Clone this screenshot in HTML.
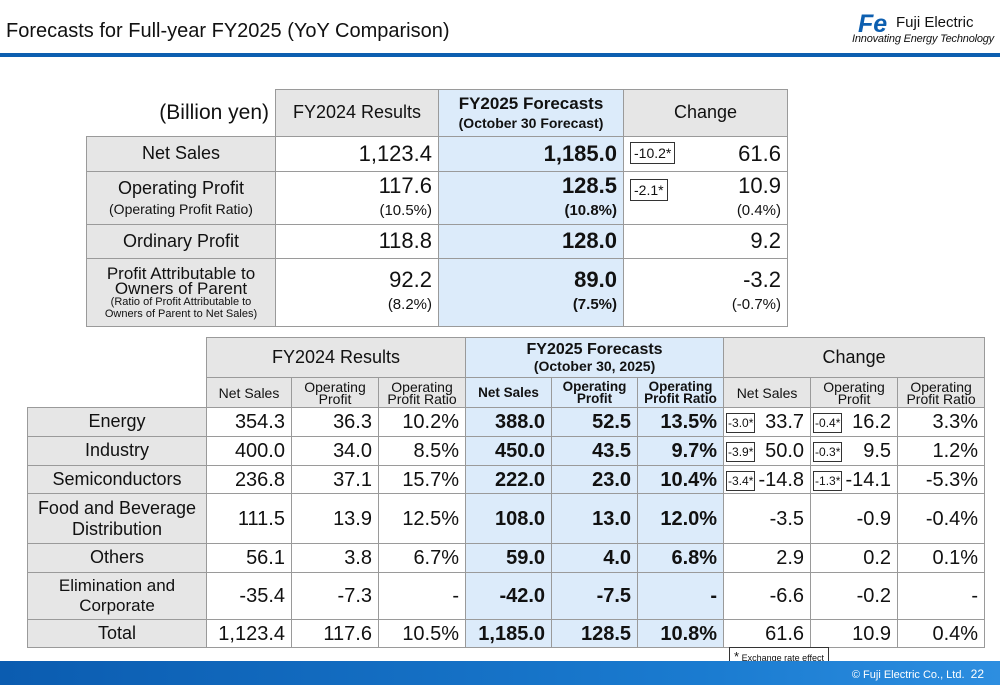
<!DOCTYPE html>
<html><head><meta charset="utf-8"><style>
body{margin:0;width:1000px;height:685px;position:relative;background:#fff;font-family:"Liberation Sans",Arial,sans-serif;overflow:hidden;color:#111}
table{position:absolute;border-collapse:collapse;table-layout:fixed}
td{border:1px solid #9a9a9a;padding:0 6px;box-sizing:border-box;line-height:1.1}
.g{background:#e6e6e6;text-align:center}
.b{background:#dcebfa}
.r{text-align:right}
.c{text-align:center}
.bold{font-weight:bold}
.bx{display:inline-block;border:1px solid #333;font-size:14px;padding:1px 3px;background:#fff;float:left;line-height:18px}
.sx{display:inline-block;border:1px solid #333;font-size:12px;padding:0 1px;line-height:18px;float:left;margin-top:2px}
#t2 td{font-size:20px}
#t2 .h{font-size:14px;line-height:12px;padding:0 1px}
#t2 .h.bold{font-size:13.5px}
</style></head><body>
<div style="position:absolute;left:6px;top:20px;font-size:20px">Forecasts for Full-year FY2025 (YoY Comparison)</div>
<div style="position:absolute;left:852px;top:12px;width:140px">
 <div style="position:absolute;left:6px;top:-2px;font:italic bold 25px 'Liberation Sans';color:#0d5fb0">Fe</div>
 <div style="position:absolute;left:44px;top:2px;font-size:15px">Fuji Electric</div>
 <div style="position:absolute;left:0;top:21px;font:italic 11px 'Liberation Sans';white-space:nowrap;letter-spacing:-0.2px">Innovating Energy Technology</div>
</div>
<div style="position:absolute;left:0;top:53px;width:1000px;height:4px;background:#0d5fb0"></div>

<table style="left:86px;top:89px;width:701px">
<colgroup><col style="width:189px"><col style="width:163px"><col style="width:185px"><col style="width:164px"></colgroup>
<tr style="height:47px"><td class="r" style="font-size:21px;border-left:none;border-top:none">(Billion yen)</td><td class="g" style="font-size:18px">FY2024 Results</td><td class="b c bold" style="font-size:17px;line-height:19px">FY2025 Forecasts<br><span style="font-size:14px">(October 30 Forecast)</span></td><td class="g" style="font-size:18px">Change</td></tr>
<tr style="height:35px"><td class="g" style="font-size:18px">Net Sales</td><td class="r" style="font-size:22px">1,123.4</td><td class="b r bold" style="font-size:22px">1,185.0</td><td class="r" style="font-size:22px"><span class="bx">-10.2*</span>61.6</td></tr>
<tr style="height:53px"><td class="g" style="font-size:18px;line-height:20px">Operating Profit<br><span style="font-size:14px">(Operating Profit Ratio)</span></td><td class="r" style="font-size:22px;line-height:22px">117.6<br><span style="font-size:15px">(10.5%)</span></td><td class="b r bold" style="font-size:22px;line-height:22px">128.5<br><span style="font-size:15px">(10.8%)</span></td><td class="r" style="font-size:22px;line-height:22px"><span class="bx" style="margin-top:4px">-2.1*</span>10.9<br><span style="font-size:15px">(0.4%)</span></td></tr>
<tr style="height:34px"><td class="g" style="font-size:18px">Ordinary Profit</td><td class="r" style="font-size:22px">118.8</td><td class="b r bold" style="font-size:22px">128.0</td><td class="r" style="font-size:22px">9.2</td></tr>
<tr style="height:68px"><td class="g" style="font-size:17px;line-height:15px;padding:0 2px">Profit Attributable to<br>Owners of Parent<br><span style="font-size:11px;line-height:12px;display:inline-block">(Ratio of Profit Attributable to<br>Owners of Parent to Net Sales)</span></td><td class="r" style="font-size:22px;line-height:22px">92.2<br><span style="font-size:15px">(8.2%)</span></td><td class="b r bold" style="font-size:22px;line-height:22px">89.0<br><span style="font-size:15px">(7.5%)</span></td><td class="r" style="font-size:22px;line-height:22px">-3.2<br><span style="font-size:15px">(-0.7%)</span></td></tr>
</table>

<table id="t2" style="left:27px;top:337px;width:957px">
<colgroup><col style="width:179px"><col style="width:85px"><col style="width:87px"><col style="width:87px"><col style="width:86px"><col style="width:86px"><col style="width:86px"><col style="width:87px"><col style="width:87px"><col style="width:87px"></colgroup>
<tr style="height:40px"><td style="border:none"></td><td class="g" colspan="3" style="font-size:18px">FY2024 Results</td><td class="b c bold" colspan="3" style="font-size:16px;line-height:17px">FY2025 Forecasts<br><span style="font-size:14px">(October 30, 2025)</span></td><td class="g" colspan="3" style="font-size:18px">Change</td></tr>
<tr style="height:30px"><td style="border:none;border-bottom:1px solid #9a9a9a"></td><td class="g h">Net Sales</td><td class="g h">Operating<br>Profit</td><td class="g h">Operating<br>Profit Ratio</td><td class="b c bold h">Net Sales</td><td class="b c bold h">Operating<br>Profit</td><td class="b c bold h" style="white-space:nowrap">Operating<br>Profit Ratio</td><td class="g h">Net Sales</td><td class="g h">Operating<br>Profit</td><td class="g h">Operating<br>Profit Ratio</td></tr>
<tr style="height:29px"><td class="g" style="font-size:18px">Energy</td><td class="r">354.3</td><td class="r">36.3</td><td class="r">10.2%</td><td class="b r bold">388.0</td><td class="b r bold">52.5</td><td class="b r bold">13.5%</td><td class="r" style="padding-left:2px"><span class="sx">-3.0*</span>33.7</td><td class="r" style="padding-left:2px"><span class="sx">-0.4*</span>16.2</td><td class="r">3.3%</td></tr>
<tr style="height:29px"><td class="g" style="font-size:18px">Industry</td><td class="r">400.0</td><td class="r">34.0</td><td class="r">8.5%</td><td class="b r bold">450.0</td><td class="b r bold">43.5</td><td class="b r bold">9.7%</td><td class="r" style="padding-left:2px"><span class="sx">-3.9*</span>50.0</td><td class="r" style="padding-left:2px"><span class="sx">-0.3*</span>9.5</td><td class="r">1.2%</td></tr>
<tr style="height:28px"><td class="g" style="font-size:18px">Semiconductors</td><td class="r">236.8</td><td class="r">37.1</td><td class="r">15.7%</td><td class="b r bold">222.0</td><td class="b r bold">23.0</td><td class="b r bold">10.4%</td><td class="r" style="padding-left:2px"><span class="sx">-3.4*</span>-14.8</td><td class="r" style="padding-left:2px"><span class="sx">-1.3*</span>-14.1</td><td class="r">-5.3%</td></tr>
<tr style="height:50px"><td class="g" style="font-size:18px;line-height:21px">Food and Beverage<br>Distribution</td><td class="r">111.5</td><td class="r">13.9</td><td class="r">12.5%</td><td class="b r bold">108.0</td><td class="b r bold">13.0</td><td class="b r bold">12.0%</td><td class="r">-3.5</td><td class="r">-0.9</td><td class="r">-0.4%</td></tr>
<tr style="height:29px"><td class="g" style="font-size:18px">Others</td><td class="r">56.1</td><td class="r">3.8</td><td class="r">6.7%</td><td class="b r bold">59.0</td><td class="b r bold">4.0</td><td class="b r bold">6.8%</td><td class="r">2.9</td><td class="r">0.2</td><td class="r">0.1%</td></tr>
<tr style="height:47px"><td class="g" style="font-size:17px;line-height:20px">Elimination and<br>Corporate</td><td class="r">-35.4</td><td class="r">-7.3</td><td class="r">-</td><td class="b r bold">-42.0</td><td class="b r bold">-7.5</td><td class="b r bold">-</td><td class="r">-6.6</td><td class="r">-0.2</td><td class="r">-</td></tr>
<tr style="height:28px"><td class="g" style="font-size:18px">Total</td><td class="r">1,123.4</td><td class="r">117.6</td><td class="r">10.5%</td><td class="b r bold">1,185.0</td><td class="b r bold">128.5</td><td class="b r bold">10.8%</td><td class="r">61.6</td><td class="r">10.9</td><td class="r">0.4%</td></tr>
</table>

<div style="position:absolute;left:729px;top:647px;width:100px;height:18px;border:1px solid #333;box-sizing:border-box;background:#fff;font-size:9px;text-align:center;line-height:17px"><span style="font-size:13px">*</span> Exchange rate effect</div>
<div style="position:absolute;left:0;top:661px;width:1000px;height:24px;background:linear-gradient(90deg,#0b5cb0,#1a7bd0 70%,#2d8ee0)"></div>
<div style="position:absolute;right:16px;top:667px;color:#fff;font-size:11px">© Fuji Electric Co., Ltd.&nbsp; <span style="font-size:12px">22</span></div>
</body></html>
